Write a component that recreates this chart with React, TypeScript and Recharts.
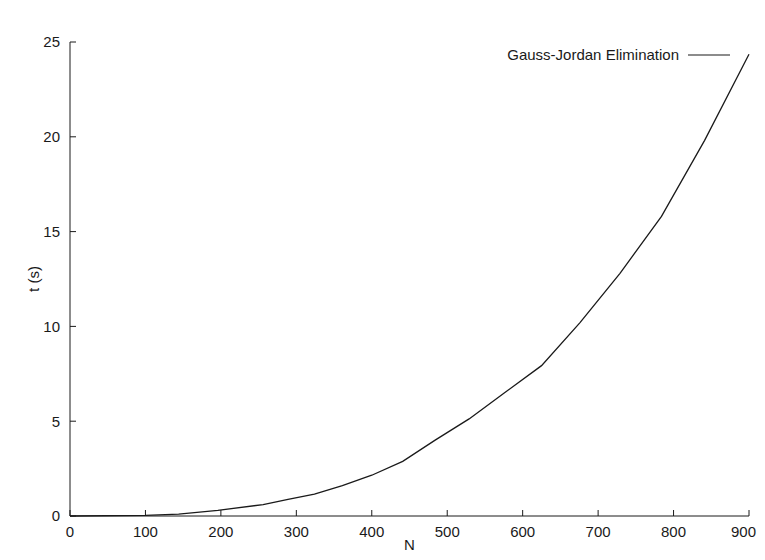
import React from 'react';
import { LineChart, Line, XAxis, YAxis, Legend } from 'recharts';

const nValues = [0, 100, 144, 196, 256, 289, 324, 361, 400, 441, 484, 529, 576, 625, 676, 729, 784, 841, 900];
const timeValues = [0, 0.03, 0.1, 0.3, 0.6, 0.88, 1.15, 1.6, 2.15, 2.88, 4.0, 5.12, 6.5, 7.93, 10.2, 12.8, 15.8, 19.8, 24.35];
const xTicks = [0, 100, 200, 300, 400, 500, 600, 700, 800, 900];
const yTicks = [0, 5, 10, 15, 20, 25];
const seriesName = 'Gauss-Jordan Elimination';

const data = nValues.map((n, i) => ({ n, t: timeValues[i] }));

const FONT = '"Liberation Sans", Arial, Helvetica, sans-serif';
const INK = '#1a1a1a';
const FS = 15;

const tickStyle = { fontSize: FS, fill: INK, fontFamily: FONT };

const XTick = (props: any) => {
  const { x, y, payload, index, visibleTicksCount } = props;
  const last = index === (visibleTicksCount ?? xTicks.length) - 1;
  return (
    <text x={last ? x + 7 : x} y={y} dy="0.71em" textAnchor={last ? 'end' : 'middle'} fontSize={FS} fontFamily={FONT} fill={INK}>
      {payload.value}
    </text>
  );
};

const renderLegend = () => (
  <div style={{ display: 'flex', alignItems: 'center', fontFamily: FONT, fontSize: FS, color: INK, whiteSpace: 'nowrap' }}>
    <span>{seriesName}</span>
    <svg width={42} height={4} style={{ marginLeft: 9 }}>
      <line x1={0} y1={2} x2={42} y2={2} stroke={INK} strokeWidth={1.2} />
    </svg>
  </div>
);

const YLabel = (props: any) => {
  const vb = props.viewBox || {};
  const cx = (vb.x ?? 0) + 23;
  const cy = (vb.y ?? 0) + (vb.height ?? 0) / 2;
  return (
    <text x={cx} y={cy} transform={`rotate(-90, ${cx}, ${cy})`} textAnchor="middle" dominantBaseline="central" fontSize={FS} fontFamily={FONT} fill={INK}>
      t (s)
    </text>
  );
};

export default function App() {
  return (
    <div style={{ margin: -8, width: 765, height: 560, background: '#fff' }}>
      <LineChart width={765} height={560} data={data} margin={{ top: 42, right: 16, bottom: 0, left: 10 }}>
        <XAxis
          xAxisId="bottom"
          dataKey="n"
          type="number"
          domain={[0, 900]}
          ticks={xTicks}
          interval={0}
          height={44}
          tickSize={-6}
          tickMargin={16}
          stroke={INK}
          tick={<XTick />}
          label={{ value: 'N', position: 'insideBottom', offset: 10, fontSize: FS, fontFamily: FONT, fill: INK }}
        />
        <XAxis
          xAxisId="top"
          orientation="top"
          dataKey="n"
          type="number"
          domain={[0, 900]}
          ticks={xTicks}
          interval={0}
          height={0}
          tickSize={-6}
          tickFormatter={() => ''}
          stroke={INK}
        />
        <YAxis
          yAxisId="left"
          type="number"
          domain={[0, 25]}
          ticks={yTicks}
          interval={0}
          width={60}
          tickSize={-6}
          tickMargin={16}
          stroke={INK}
          tick={tickStyle}
          label={<YLabel />}
        />
        <YAxis
          yAxisId="right"
          orientation="right"
          type="number"
          domain={[0, 25]}
          ticks={yTicks}
          interval={0}
          width={0}
          tickSize={-6}
          tickFormatter={() => ''}
          stroke={INK}
        />
        <Legend
          layout="vertical"
          align="center"
          verticalAlign="middle"
          content={renderLegend}
          wrapperStyle={{ top: 46, right: 35, width: 'auto' }}
        />
        <Line
          xAxisId="bottom"
          yAxisId="left"
          type="linear"
          dataKey="t"
          name={seriesName}
          stroke={INK}
          strokeWidth={1.3}
          dot={false}
          isAnimationActive={false}
        />
      </LineChart>
    </div>
  );
}
